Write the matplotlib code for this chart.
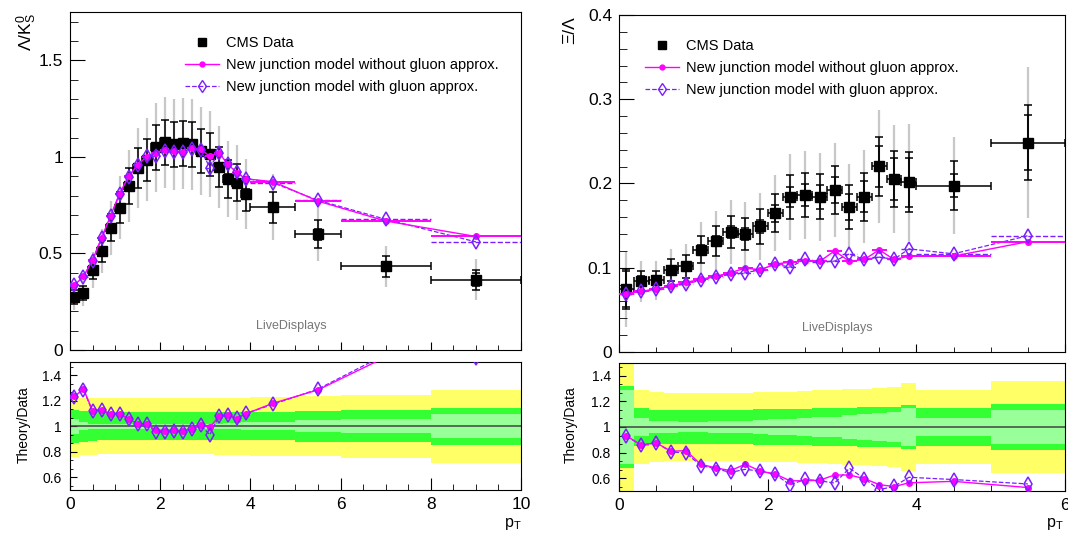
import matplotlib.pyplot as plt
import numpy as np
from matplotlib.ticker import MultipleLocator, FuncFormatter
from matplotlib.lines import Line2D

plt.rcParams['font.family'] = ['Liberation Sans', 'DejaVu Sans']
plt.rcParams['mathtext.fontset'] = 'custom'
plt.rcParams['mathtext.rm'] = 'Liberation Sans'
plt.rcParams['mathtext.it'] = 'Liberation Sans:italic'
plt.rcParams['mathtext.default'] = 'regular'

# ---- Lambda / K0S ----
edges_lk = [0.0, 0.2, 0.4, 0.6, 0.8, 1.0, 1.2, 1.4, 1.6, 1.8, 2.0, 2.2, 2.4, 2.6,
            2.8, 3.0, 3.2, 3.4, 3.6, 3.8, 4.0, 5.0, 6.0, 8.0, 10.0]
data_lk = [0.273, 0.295, 0.415, 0.513, 0.634, 0.737, 0.848, 0.941, 0.986, 1.050,
           1.075, 1.065, 1.070, 1.065, 1.030, 1.013, 0.948, 0.887, 0.866, 0.807,
           0.739, 0.600, 0.433, 0.364]
stat_lk = [0.06, 0.03, 0.02, 0.02, 0.02, 0.02, 0.02, 0.02, 0.02, 0.02, 0.02, 0.02,
           0.02, 0.02, 0.02, 0.02, 0.02, 0.025, 0.025, 0.03, 0.03, 0.047, 0.055, 0.094]
syst_lk = [0.13, 0.12, 0.115, 0.11, 0.11, 0.11, 0.11, 0.11, 0.11, 0.11, 0.11, 0.11,
           0.11, 0.11, 0.11, 0.11, 0.11, 0.11, 0.11, 0.11, 0.11, 0.12, 0.125, 0.145]
total_lk = [0.24, 0.225, 0.222, 0.22, 0.22, 0.22, 0.22, 0.22, 0.22, 0.22, 0.22, 0.22,
            0.22, 0.22, 0.22, 0.22, 0.222, 0.222, 0.225, 0.225, 0.23, 0.236, 0.247, 0.288]
nogluon_lk = [0.337, 0.381, 0.466, 0.580, 0.695, 0.809, 0.899, 0.958, 1.002, 1.019,
              1.038, 1.032, 1.026, 1.044, 1.040, 1.003, 1.022, 0.962, 0.918, 0.886,
              0.872, 0.771, 0.668, 0.588]
gluon_lk = [0.335, 0.380, 0.463, 0.578, 0.693, 0.807, 0.897, 0.960, 1.005, 1.003,
            1.030, 1.027, 1.024, 1.040, 1.038, 0.945, 1.022, 0.965, 0.920, 0.888,
            0.866, 0.775, 0.677, 0.560]

# ---- Xi / Lambda ----
edges_xl = [0.0, 0.2, 0.4, 0.6, 0.8, 1.0, 1.2, 1.4, 1.6, 1.8, 2.0, 2.2, 2.4, 2.6,
            2.8, 3.0, 3.2, 3.4, 3.6, 3.8, 4.0, 5.0, 6.0]
data_xl = [0.0745, 0.0839, 0.0850, 0.0968, 0.1015, 0.1216, 0.1320, 0.1427, 0.1404,
           0.1490, 0.1647, 0.1840, 0.1860, 0.1840, 0.1920, 0.1720, 0.1840, 0.2204,
           0.2055, 0.2016, 0.1976, 0.2486]
stat_xl = [0.29, 0.07, 0.05, 0.045, 0.04, 0.04, 0.045, 0.05, 0.05, 0.055, 0.06,
           0.065, 0.07, 0.075, 0.08, 0.09, 0.1, 0.11, 0.12, 0.145, 0.07, 0.13]
syst_xl = [0.32, 0.15, 0.135, 0.135, 0.134, 0.134, 0.135, 0.135, 0.136, 0.137, 0.138,
           0.14, 0.14, 0.145, 0.15, 0.15, 0.155, 0.16, 0.16, 0.175, 0.147, 0.18]
total_xl = [0.6, 0.29, 0.27, 0.267, 0.266, 0.266, 0.266, 0.267, 0.268, 0.27, 0.272,
            0.275, 0.28, 0.285, 0.29, 0.295, 0.3, 0.305, 0.31, 0.345, 0.29, 0.36]
nogluon_xl = [0.0694, 0.0720, 0.0745, 0.0785, 0.0827, 0.0862, 0.0898, 0.0941, 0.0996,
              0.0976, 0.1043, 0.1067, 0.1079, 0.1075, 0.1200, 0.1075, 0.1098, 0.1212,
              0.1098, 0.1137, 0.1137, 0.1310]
gluon_xl = [0.0690, 0.0720, 0.0745, 0.0780, 0.0808, 0.0850, 0.0890, 0.0921, 0.0940,
            0.0976, 0.1040, 0.1008, 0.1098, 0.1067, 0.1079, 0.1165, 0.1098, 0.1126,
            0.1100, 0.1224, 0.1165, 0.1380]

MAGENTA = '#ff00ff'
VIOLET = '#7a1fff'
GREY = '#c8c8c8'
YELLOW = '#ffff66'
GREEN = '#33ff33'
LIGHT = '#99ff99'

fmt = FuncFormatter(lambda v, p: f'{round(v, 3):g}')

fig = plt.figure(figsize=(10.68, 5.33), dpi=100)


def draw_panel(rect_main, rect_ratio, edges, data, stat, syst, total, th_a, th_b,
               xmax, ymax, ymajor, yminor, leg_anchor):
    edges = np.array(edges)
    data = np.array(data)
    th_a = np.array(th_a)
    th_b = np.array(th_b)
    x = (edges[:-1] + edges[1:]) / 2
    hw = (edges[1:] - edges[:-1]) / 2

    ax = fig.add_axes(rect_main)
    ax.errorbar(x, data, yerr=np.array(total) * data, fmt='none', ecolor=GREY,
                elinewidth=1.6, zorder=1)
    ax.errorbar(x, data, xerr=hw, yerr=np.array(syst) * data, fmt='none',
                ecolor='black', elinewidth=1.1, capsize=3, capthick=1.1, zorder=2)
    ax.errorbar(x, data, yerr=np.array(stat) * data, fmt='none',
                ecolor='black', elinewidth=1.1, capsize=3, capthick=1.1, zorder=2)
    ax.plot(x, data, 's', color='black', ms=7.5, zorder=3)

    eb = ax.errorbar(x, th_b, xerr=hw, fmt='--', color=VIOLET, lw=0.9,
                     elinewidth=1.0, zorder=4)
    eb[2][0].set_linestyle('--')
    ax.errorbar(x, th_a, xerr=hw, fmt='-', color=MAGENTA, lw=1.0, marker='o',
                ms=4, elinewidth=1.4, zorder=5)
    ax.plot(x, th_b, 'd', mfc='none', mec=VIOLET, ms=7, mew=1.1, zorder=6)

    ax.set_xlim(0, xmax)
    ax.set_ylim(0, ymax)
    ax.xaxis.set_major_locator(MultipleLocator(2))
    ax.xaxis.set_minor_locator(MultipleLocator(0.5))
    ax.yaxis.set_major_locator(MultipleLocator(ymajor))
    ax.yaxis.set_minor_locator(MultipleLocator(yminor))
    ax.yaxis.set_major_formatter(fmt)
    ax.tick_params(which='both', direction='in', top=False, right=False,
                   labelbottom=False)
    ax.tick_params(axis='y', which='major', length=11, labelsize=12.5, pad=5)
    ax.tick_params(axis='y', which='minor', length=5.5)
    ax.tick_params(axis='x', which='major', length=6)
    ax.tick_params(axis='x', which='minor', length=3.5)

    handles = [
        Line2D([], [], ls='none', marker='s', color='black', ms=6),
        Line2D([], [], color=MAGENTA, marker='o', ms=3.5, lw=1.0),
        Line2D([], [], color=VIOLET, ls='--', marker='d', mfc='none', ms=6, lw=0.9),
    ]
    labels = ['CMS Data', 'New junction model without gluon approx.',
              'New junction model with gluon approx.']
    ax.legend(handles, labels, loc='upper left', bbox_to_anchor=leg_anchor,
              frameon=False, fontsize=10.5, borderpad=0, handlelength=2.3,
              handletextpad=0.5, labelspacing=0.55)
    ax.text(0.49, 0.07, 'LiveDisplays', transform=ax.transAxes, ha='center',
            va='center', fontsize=9, color='#777777')

    # ratio pad
    axr = fig.add_axes(rect_ratio)
    for rel, col in [(total, YELLOW), (syst, GREEN), (stat, LIGHT)]:
        r = np.append(rel, rel[-1])
        axr.fill_between(edges, 1 - r, 1 + r, step='post', color=col, lw=0, zorder=1)
    axr.axhline(1, color='#444444', lw=1.1, zorder=2)
    axr.plot(x, th_b / data, '--', color=VIOLET, lw=0.9, zorder=3)
    axr.plot(x, th_a / data, '-', color=MAGENTA, lw=1.0, marker='o', ms=4, zorder=4)
    axr.plot(x, th_b / data, 'd', mfc='none', mec=VIOLET, ms=7, mew=1.1, zorder=5)
    axr.set_xlim(0, xmax)
    axr.set_ylim(0.5, 1.5)
    axr.xaxis.set_major_locator(MultipleLocator(2))
    axr.xaxis.set_minor_locator(MultipleLocator(0.5))
    axr.yaxis.set_major_locator(MultipleLocator(0.2))
    axr.yaxis.set_minor_locator(MultipleLocator(0.2 / 3))
    axr.xaxis.set_major_formatter(fmt)
    axr.yaxis.set_major_formatter(fmt)
    axr.tick_params(which='both', direction='in', top=False, right=False)
    axr.tick_params(axis='y', which='major', length=5, labelsize=10, pad=6)
    axr.tick_params(axis='y', which='minor', length=2.5)
    axr.tick_params(axis='x', which='major', length=9, labelsize=12.5, pad=5)
    axr.tick_params(axis='x', which='minor', length=4.5)
    return ax, axr


draw_panel([0.0655, 0.3433, 0.4223, 0.6341], [0.0655, 0.0807, 0.4223, 0.2392],
           edges_lk, data_lk, stat_lk, syst_lk, total_lk, nogluon_lk, gluon_lk,
           10, 1.75, 0.5, 0.1, (0.2395, 0.95))
draw_panel([0.5796, 0.3396, 0.4176, 0.6323], [0.5796, 0.0788, 0.4176, 0.2402],
           edges_xl, data_xl, stat_xl, syst_xl, total_xl, nogluon_xl, gluon_xl,
           6, 0.4, 0.1, 0.02, (0.042, 0.95))

fig.text(27 / 1068, 1 - 13 / 533, r'Λ/K$^{0}_{S}$', rotation=90, ha='center',
         va='top', fontsize=12.5)
fig.text(570 / 1068, 1 - 16 / 533, 'Ξ/Λ', rotation=90, ha='center', va='top',
         fontsize=12.5)
fig.text(24 / 1068, 1 - 425 / 533, 'Theory/Data', rotation=90, ha='center',
         va='center', fontsize=10)
fig.text(571 / 1068, 1 - 425 / 533, 'Theory/Data', rotation=90, ha='center',
         va='center', fontsize=10)
fig.text(504 / 1068, 6 / 533, r'p$_{T}$', ha='left', va='baseline', fontsize=11.5)
fig.text(1046 / 1068, 6 / 533, r'p$_{T}$', ha='left', va='baseline', fontsize=11.5)

fig.savefig('out.png', dpi=100)
